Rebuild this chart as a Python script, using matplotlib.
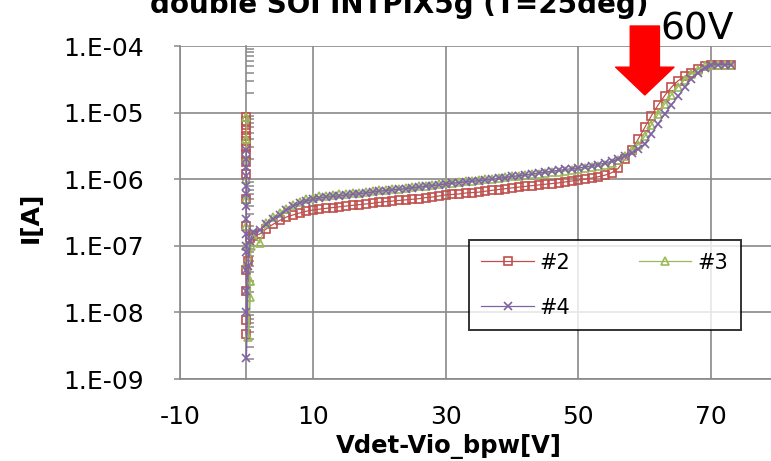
import numpy as np
import matplotlib.pyplot as plt
from matplotlib.ticker import FixedLocator, LogLocator, FuncFormatter, NullFormatter

plt.rcParams['axes.unicode_minus'] = False

# sweep near 0V (dense points, all around x=0), values in 1e-7 A
v2_spike = [0, 0, 0, 0, 0, 0, 0, 0, 0, 0, 0, 0, 0, 0, 0, 0, 0.2, 0.5]
i2_spike = [85, 75, 65, 55, 45, 38, 30, 24, 18, 12, 5, 2, 0.43, 0.21, 0.076, 0.048, 0.6, 1.3]
v3_spike = [0, 0, 0, 0, 0, 0, 0, 0, 0.5, 0.6, 0.3, 0.5, 0.7]
i3_spike = [85, 40, 20, 10, 5, 2, 1.0, 0.54, 0.3, 0.17, 0.042, 0.3, 1.0]
v4_spike = [0, 0, 0, 0, 0, 0, 0, 0, 0, 0, 0, 0, 0, 0, 0, 0.3, 0.6]
i4_spike = [27, 20, 15, 11, 8, 6, 4, 2.5, 1.5, 1.0, 0.8, 0.43, 0.21, 0.1, 0.021, 0.5, 1.2]

# main sweep 1..73 V, values in 1e-7 A
v_sweep = list(range(1, 74))
i2_sweep = [1.4, 1.5, 1.8, 2.1, 2.4, 2.7, 2.9, 3.1, 3.3, 3.45,
            3.55, 3.65, 3.75, 3.85, 3.95, 4.05, 4.15, 4.25, 4.35, 4.5,
            4.6, 4.7, 4.8, 4.9, 5.0, 5.1, 5.3, 5.4, 5.6, 5.8,
            5.9, 6.0, 6.2, 6.3, 6.4, 6.6, 6.8, 7.0, 7.2, 7.4,
            7.6, 7.8, 8.0, 8.2, 8.4, 8.6, 8.8, 9.1, 9.4, 9.7,
            10.0, 10.4, 10.9, 11.5, 12.5, 14.5, 20, 27, 40, 60,
            90, 130, 180, 240, 300, 350, 400, 450, 500, 520,
            525, 525, 525]
i3_sweep = [1.5, 1.1, 2.2, 2.7, 3.1, 3.6, 4.1, 4.6, 5.0, 5.3,
            5.5, 5.65, 5.8, 5.9, 6.0, 6.15, 6.3, 6.45, 6.6, 6.8,
            6.95, 7.1, 7.25, 7.4, 7.6, 7.8, 8.0, 8.2, 8.4, 8.7,
            8.9, 9.1, 9.3, 9.5, 9.7, 9.9, 10.1, 10.4, 10.7, 11.0,
            11.2, 11.5, 11.8, 12.1, 12.4, 12.7, 13.0, 13.3, 13.6, 14.0,
            14.5, 15.0, 15.7, 16.6, 17.8, 19.5, 22, 27, 33, 44,
            66, 95, 135, 185, 245, 310, 380, 440, 495, 520,
            525, 525, 525]
i4_sweep = [1.6, 1.7, 2.1, 2.5, 2.9, 3.4, 3.9, 4.4, 4.7, 5.0,
            5.2, 5.4, 5.5, 5.6, 5.75, 5.9, 6.05, 6.2, 6.4, 6.6,
            6.75, 6.9, 7.05, 7.2, 7.4, 7.6, 7.8, 8.0, 8.2, 8.5,
            8.7, 8.9, 9.1, 9.3, 9.5, 9.7, 10.0, 10.3, 10.6, 11.0,
            11.3, 11.6, 12.0, 12.4, 12.8, 13.2, 13.6, 14.0, 14.4, 14.8,
            15.3, 15.9, 16.6, 17.5, 18.6, 20, 22, 25, 28, 34,
            48, 68, 95, 130, 175, 240, 320, 400, 470, 520,
            525, 525, 525]

x_ticks = [-10, 10, 30, 50, 70]
gray = '#898989'

fig = plt.figure(figsize=(7.71, 4.61), dpi=100)
ax = fig.add_axes([180/771, 82/461, 591/771, 333/461])

series = [
    ('#2', v2_spike + v_sweep, i2_spike + i2_sweep, '#C0504D', 's', 5.5),
    ('#3', v3_spike + v_sweep, i3_spike + i3_sweep, '#9BBB59', '^', 6),
    ('#4', v4_spike + v_sweep, i4_spike + i4_sweep, '#8064A2', 'x', 6),
]
handles = []
for name, v, i, c, m, ms in series:
    h, = ax.plot(v, np.array(i) * 1e-7, color=c, lw=0.9, marker=m, ms=ms,
                 mfc='none', mec=c, mew=1.2, label=name)
    handles.append(h)

ax.set_yscale('log')
ax.set_ylim(1e-9, 1e-4)
ax.set_xlim(-10, 79)
ax.xaxis.set_major_locator(FixedLocator(x_ticks))
ax.yaxis.set_major_formatter(FuncFormatter(lambda y, _: '1.E-%02d' % round(-np.log10(y))))
ax.yaxis.set_minor_locator(LogLocator(base=10, subs='auto'))
ax.yaxis.set_minor_formatter(NullFormatter())
ax.tick_params(axis='y', which='minor', length=0)
ax.tick_params(axis='y', which='major', length=4, color=gray, width=1.1, pad=22, labelsize=18)
ax.tick_params(axis='x', length=0, pad=19, labelsize=18)
ax.grid(True, which='major', color=gray, lw=1.2)
ax.set_axisbelow(True)
for s in ['top', 'right']:
    ax.spines[s].set_visible(False)
for s in ['left', 'bottom']:
    ax.spines[s].set_color(gray)
    ax.spines[s].set_linewidth(1.2)

# value axis crossing at 0V
sec = ax.secondary_yaxis((0 - (-10)) / (79 - (-10)))
sec.set_yscale('log')
sec.spines['left'].set_color(gray)
sec.spines['left'].set_linewidth(1.2)
sec.yaxis.set_minor_locator(LogLocator(base=10, subs=np.arange(2, 10)))
sec.yaxis.set_major_formatter(NullFormatter())
sec.yaxis.set_minor_formatter(NullFormatter())
sec.tick_params(which='major', length=0)
sec.tick_params(which='minor', direction='in', length=6, color=gray, width=1.1)

# column-major fill: #2 / #4 in first column, #3 in second
leg = ax.legend([handles[0], handles[2], handles[1]], ['#2', '#4', '#3'],
                ncol=2, loc='upper left', bbox_to_anchor=(0.489, 0.132, 0.46, 0.285),
                mode='expand', fontsize=15, handlelength=2.5, handletextpad=0.3,
                labelspacing=1.2, borderpad=0.6, borderaxespad=0, fancybox=False)
leg.get_frame().set_edgecolor('black')
leg.get_frame().set_linewidth(1.4)

# arrow marking 60V
ax.annotate('', xy=(60, 0.853), xytext=(60, 1.06),
            xycoords=('data', 'axes fraction'), textcoords=('data', 'axes fraction'),
            arrowprops=dict(arrowstyle='simple,head_width=42,head_length=20,tail_width=21',
                            mutation_scale=1, color='#FF0000', shrinkA=0, shrinkB=0),
            annotation_clip=False)
ax.text(62.3, 1.02, '60V', transform=ax.get_xaxis_transform(), fontsize=27,
        ha='left', va='baseline', clip_on=False)

fig.text(399/771, 1 - 13/461, 'double SOI INTPIX5g (T=25deg)', fontsize=20,
         fontweight='bold', ha='center', va='baseline')
fig.text(449/771, 1 - 453/461, 'Vdet-Vio_bpw[V]', fontsize=17.5, fontweight='bold',
         ha='center', va='baseline')
fig.text(31/771, 1 - 217/461, 'I[A]', fontsize=18, fontweight='bold', rotation=90,
         ha='center', va='center')

fig.savefig('out.png', dpi=100)
